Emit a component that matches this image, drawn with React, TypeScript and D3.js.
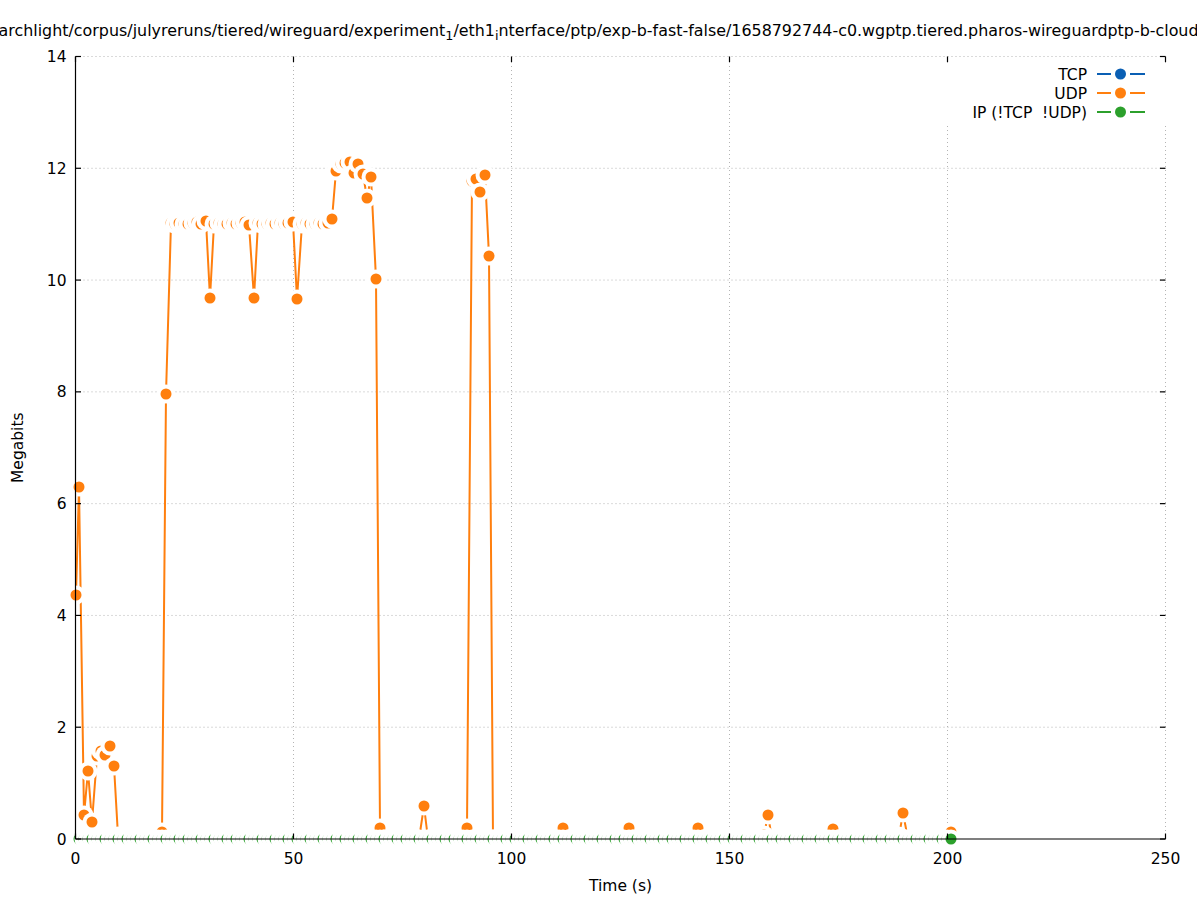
import React from "react";
import * as d3 from "d3";

// Sample times (s) shared by the series
const TIMES = [
  0, 0.85, 1.85, 2.85, 3.85, 4.85, 5.85, 6.85, 7.85, 8.85, 9.85, 10.85, 11.85, 12.85, 13.85, 14.85, 15.85, 16.85, 17.85, 18.85,
  19.85, 20.85, 21.85, 22.85, 23.85, 24.85, 25.85, 26.85, 27.85, 28.85, 29.85, 30.85, 31.85, 32.85, 33.85, 34.85, 35.85, 36.85, 37.85, 38.85,
  39.85, 40.85, 41.85, 42.85, 43.85, 44.85, 45.85, 46.85, 47.85, 48.85, 49.85, 50.85, 51.85, 52.85, 53.85, 54.85, 55.85, 56.85, 57.85, 58.85,
  59.85, 60.85, 61.85, 62.85, 63.85, 64.85, 65.85, 66.85, 67.85, 68.85, 69.85, 70.85, 71.85, 72.85, 73.85, 74.85, 75.85, 76.85, 77.85, 78.85,
  79.85, 80.85, 81.85, 82.85, 83.85, 84.85, 85.85, 86.85, 87.85, 88.85, 89.85, 90.85, 91.85, 92.85, 93.85, 94.85, 95.85, 96.85, 97.85, 98.85,
  99.85, 100.85, 101.85, 102.85, 103.85, 104.85, 105.85, 106.85, 107.85, 108.85, 109.85, 110.85, 111.85, 112.85, 113.85, 114.85, 115.85, 116.85, 117.85, 118.85,
  119.85, 120.85, 121.85, 122.85, 123.85, 124.85, 125.85, 126.85, 127.85, 128.85, 129.85, 130.85, 131.85, 132.85, 133.85, 134.85, 135.85, 136.85, 137.85, 138.85,
  139.85, 140.85, 141.85, 142.85, 143.85, 144.85, 145.85, 146.85, 147.85, 148.85, 149.85, 150.85, 151.85, 152.85, 153.85, 154.85, 155.85, 156.85, 157.85, 158.85,
  159.85, 160.85, 161.85, 162.85, 163.85, 164.85, 165.85, 166.85, 167.85, 168.85, 169.85, 170.85, 171.85, 172.85, 173.85, 174.85, 175.85, 176.85, 177.85, 178.85,
  179.85, 180.85, 181.85, 182.85, 183.85, 184.85, 185.85, 186.85, 187.85, 188.85, 189.85, 190.85, 191.85, 192.85, 193.85, 194.85, 195.85, 196.85, 197.85, 198.85,
  199.85, 200.85,
];

// UDP megabits per sample
const UDP = [
  4.36, 6.29, 0.43, 1.21, 0.3, 1.48, 1.58, 1.5, 1.66, 1.31, 0.05, 0, 0, 0, 0, 0, 0, 0, 0, 0,
  0.13, 7.97, 11.02, 11.0, 11.03, 11.01, 11.0, 11.02, 11.04, 11.01, 11.05, 9.68, 11.0, 11.02, 11.01, 11.0, 11.03, 11.0, 11.02, 11.04,
  10.98, 9.68, 11.02, 11.0, 11.01, 11.03, 11.0, 11.02, 11.01, 11.03, 11.04, 9.66, 11.0, 11.02, 11.01, 11.0, 11.02, 11.01, 11.03, 11.1,
  11.95, 12.08, 12.1, 12.12, 11.92, 12.07, 11.9, 11.47, 11.84, 10.02, 0.19, 0, 0, 0, 0, 0, 0, 0, 0, 0,
  0.59, 0, 0, 0, 0, 0, 0, 0, 0, 0, 0.19, 11.78, 11.8, 11.58, 11.88, 10.43, 0, 0, 0, 0,
  0, 0, 0, 0, 0, 0, 0, 0, 0, 0, 0, 0, 0.19, 0, 0, 0, 0, 0, 0, 0,
  0, 0, 0, 0, 0, 0, 0, 0.19, 0, 0, 0, 0, 0, 0, 0, 0, 0, 0, 0, 0,
  0, 0, 0, 0.19, 0, 0, 0, 0, 0, 0, 0, 0, 0, 0, 0, 0, 0, 0, 0.08, 0.43,
  0, 0, 0, 0, 0, 0, 0, 0, 0, 0, 0, 0, 0, 0, 0.17, 0, 0, 0, 0, 0,
  0, 0, 0, 0, 0, 0, 0, 0, 0, 0.05, 0.46, 0, 0, 0, 0, 0, 0, 0, 0, 0,
  0, 0.12,
];

// IP (!TCP !UDP) megabits per sample
const IP = [
  0, 0, 0, 0, 0, 0, 0, 0, 0, 0, 0, 0, 0, 0, 0, 0, 0, 0, 0, 0,
  0, 0, 0, 0, 0, 0, 0, 0, 0, 0, 0, 0, 0, 0, 0, 0, 0, 0, 0, 0,
  0, 0, 0, 0, 0, 0, 0, 0, 0, 0, 0, 0, 0, 0, 0, 0, 0, 0, 0, 0,
  0, 0, 0, 0, 0, 0, 0, 0, 0, 0, 0, 0, 0, 0, 0, 0, 0, 0, 0, 0,
  0, 0, 0, 0, 0, 0, 0, 0, 0, 0, 0, 0, 0, 0, 0, 0, 0, 0, 0, 0,
  0, 0, 0, 0, 0, 0, 0, 0, 0, 0, 0, 0, 0, 0, 0, 0, 0, 0, 0, 0,
  0, 0, 0, 0, 0, 0, 0, 0, 0, 0, 0, 0, 0, 0, 0, 0, 0, 0, 0, 0,
  0, 0, 0, 0, 0, 0, 0, 0, 0, 0, 0, 0, 0, 0, 0, 0, 0, 0, 0, 0,
  0, 0, 0, 0, 0, 0, 0, 0, 0, 0, 0, 0, 0, 0, 0, 0, 0, 0, 0, 0,
  0, 0, 0, 0, 0, 0, 0, 0, 0, 0, 0, 0, 0, 0, 0, 0, 0, 0, 0, 0,
  0, 0,
];

const TCP: number[] = [];

const SERIES_NAMES = ["TCP", "UDP", "IP (!TCP  !UDP)"];
const SERIES_COLORS = ["#0a5fb4", "#ff7f0e", "#2ca02c"];
const X_TICKS = [0, 50, 100, 150, 200, 250];
const Y_TICKS = [0, 2, 4, 6, 8, 10, 12, 14];

const W = 1197;
const H = 900;
const FONT = "'DejaVu Sans', sans-serif";
const FS = 15.5;
const TITLE_FS = 15.9;
const DOT_R = 5.5;
const HALO_R = 9.5;

export default function App() {
  const x = d3.scaleLinear().domain([0, 250]).range([75.5, 1165.5]);
  const y = d3.scaleLinear().domain([0, 14]).range([839, 56.5]);
  const [x0, x1] = x.range();
  const [y0, y1] = y.range();

  const seriesValues = [TCP, UDP, IP];
  const series = seriesValues.map((vals, i) => ({
    name: SERIES_NAMES[i],
    color: SERIES_COLORS[i],
    pts: vals.map((v, j) => [Math.round(x(TIMES[j])), Math.round(y(v))] as [number, number]),
  }));
  const line = d3.line<[number, number]>().x((d) => d[0]).y((d) => d[1]);
  const tick = 5.5;

  return (
    <svg width={W} height={H} style={{ position: "absolute", left: 0, top: 0, background: "#fff" }} fontFamily={FONT}>
      <rect x={0} y={0} width={W} height={H} fill="#fff" />
      {/* title (wider than the page, as in the reference) */}
      <text x={-19.5} y={36} fontSize={TITLE_FS} fill="#000">
        searchlight/corpus/julyreruns/tiered/wireguard/experiment
        <tspan fontSize={TITLE_FS * 0.8} dy={4}>1</tspan>
        <tspan dy={-4}>/eth1</tspan>
        <tspan fontSize={TITLE_FS * 0.8} dy={4}>i</tspan>
        <tspan dy={-4}>nterface/ptp/exp-b-fast-false/1658792744-c0.wgptp.tiered.pharos-wireguardptp-b-cloudlab.pcap</tspan>
      </text>
      {/* grid */}
      <g stroke="#b4b4b4" strokeWidth={1} strokeDasharray="1,3">
        {X_TICKS.filter((t) => t > 0).map((t) => (
          <line key={"gx" + t} x1={x(t)} x2={x(t)} y1={y0} y2={y1} />
        ))}
        {Y_TICKS.filter((t) => t > 0).map((t) => (
          <line key={"gy" + t} x1={x0} x2={x1} y1={y(t)} y2={y(t)} />
        ))}
      </g>
      {/* series */}
      {series.map((s) => (
        <g key={s.name}>
          {s.pts.length > 1 && (
            <path d={line(s.pts) || ""} fill="none" stroke={s.color} strokeWidth={2} strokeLinejoin="round" />
          )}
          {s.pts.map((p, j) => (
            <g key={j}>
              <circle cx={p[0]} cy={p[1]} r={HALO_R} fill="#fff" />
              <circle cx={p[0]} cy={p[1]} r={DOT_R} fill={s.color} />
            </g>
          ))}
        </g>
      ))}
      {/* border: left + bottom */}
      <g stroke="#000" strokeWidth={1.2} fill="none">
        <line x1={x0} x2={x0} y1={y0} y2={y1} />
        <line x1={x0} x2={x1} y1={y0} y2={y0} />
        {Y_TICKS.map((t) => (
          <g key={"ty" + t}>
            <line x1={x0} x2={x0 + tick} y1={y(t)} y2={y(t)} />
            <line x1={x1} x2={x1 - tick} y1={y(t)} y2={y(t)} />
          </g>
        ))}
        {X_TICKS.map((t) => (
          <g key={"tx" + t}>
            <line x1={x(t)} x2={x(t)} y1={y0} y2={y0 - tick} />
            <line x1={x(t)} x2={x(t)} y1={y1} y2={y1 + tick} />
          </g>
        ))}
      </g>
      {/* tick labels */}
      <g fontSize={FS} fill="#000">
        {Y_TICKS.map((t) => (
          <text key={"ly" + t} x={x0 - 9} y={y(t) + 5.5} textAnchor="end">
            {t}
          </text>
        ))}
        {X_TICKS.map((t) => (
          <text key={"lx" + t} x={x(t)} y={y0 + 25} textAnchor="middle">
            {t}
          </text>
        ))}
      </g>
      <text x={620.5} y={891} fontSize={FS} textAnchor="middle">Time (s)</text>
      <text transform={`translate(23,${(y0 + y1) / 2}) rotate(-90)`} fontSize={FS} textAnchor="middle">
        Megabits
      </text>
      {/* key */}
      <rect x={940} y={63} width={226} height={62} fill="#fff" />
      {series.map((s, i) => {
        const ky = 74 + i * 19;
        return (
          <g key={"k" + i}>
            <text x={1087} y={ky + 5.5} fontSize={FS} textAnchor="end" style={{ whiteSpace: "pre" }}>
              {s.name}
            </text>
            <line x1={1097} x2={1111} y1={ky} y2={ky} stroke={s.color} strokeWidth={2} />
            <line x1={1130} x2={1145} y1={ky} y2={ky} stroke={s.color} strokeWidth={2} />
            <circle cx={1120.5} cy={ky} r={DOT_R} fill={s.color} />
          </g>
        );
      })}
    </svg>
  );
}
